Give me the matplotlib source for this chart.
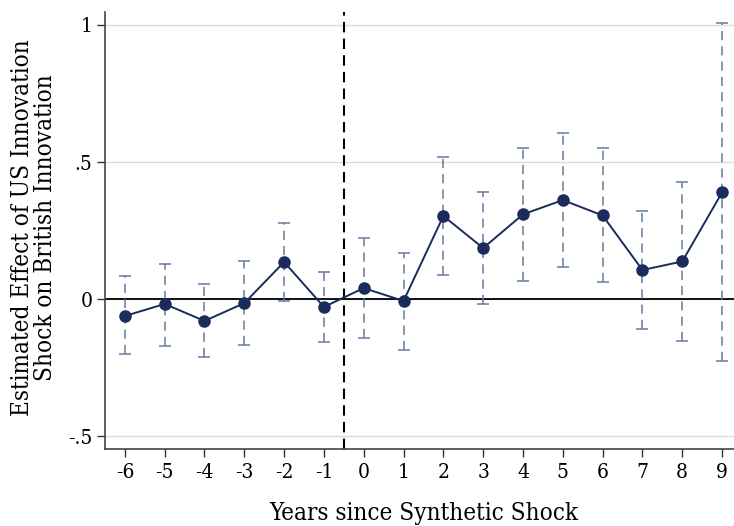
import matplotlib
matplotlib.use("Agg")
import matplotlib.pyplot as plt

# event-study estimates
years = [-6, -5, -4, -3, -2, -1, 0, 1, 2, 3, 4, 5, 6, 7, 8, 9]
coef = [-0.062, -0.018, -0.080, -0.015, 0.135, -0.029, 0.040, -0.007,
        0.303, 0.186, 0.309, 0.361, 0.305, 0.106, 0.137, 0.389]
ci_hi = [0.084, 0.128, 0.055, 0.139, 0.277, 0.099, 0.223, 0.168,
         0.517, 0.389, 0.552, 0.606, 0.552, 0.322, 0.427, 1.006]
ci_lo = [-0.200, -0.172, -0.210, -0.168, -0.007, -0.157, -0.142, -0.186,
         0.089, -0.017, 0.066, 0.116, 0.061, -0.111, -0.153, -0.226]
yticks = [-0.5, 0, 0.5, 1]
ytick_labels = ["-.5", "0", ".5", "1"]

NAVY = "#1a2c5b"
CI_COLOR = "#667a9c"

plt.rcParams["font.family"] = ["DejaVu Serif"]
plt.rcParams["font.stretch"] = "condensed"

fig = plt.figure(figsize=(7.34, 5.26), dpi=100)
ax = fig.add_axes([0.143, 0.146, 0.857, 0.831])

for y in yticks:
    ax.axhline(y, color="#dcdcdc", lw=1.0, zorder=0)
ax.axhline(0, color="black", lw=1.3, zorder=1)
ax.axvline(-0.5, color="black", lw=1.5, ls=(0, (5, 3)), zorder=1)

ax.errorbar(years, coef,
            yerr=[[c - l for c, l in zip(coef, ci_lo)],
                  [h - c for c, h in zip(coef, ci_hi)]],
            fmt="none", ecolor=CI_COLOR, elinewidth=1.1, capsize=4,
            capthick=1.1, zorder=2)
# make the vertical CI segments dashed
for coll in ax.collections:
    coll.set_linestyle((0, (6, 4)))
ax.plot(years, coef, color=NAVY, lw=1.4, marker="o", ms=8, zorder=3)

ax.set_xlim(-6.5, 9.3)
ax.set_ylim(-0.548, 1.047)
ax.set_xticks(years)
ax.set_xticklabels([str(y) for y in years])
ax.set_yticks(yticks)
ax.set_yticklabels(ytick_labels)
ax.tick_params(axis="both", labelsize=15, length=6, width=1, color="#333333")
ax.tick_params(axis="y", pad=3)
ax.tick_params(axis="x", pad=4)

for side in ["top", "right"]:
    ax.spines[side].set_visible(False)
for side in ["left", "bottom"]:
    ax.spines[side].set_color("#444444")
    ax.spines[side].set_linewidth(1.2)

ax.set_xlabel("Years since Synthetic Shock", fontsize=17.4, va="top")
ax.xaxis.set_label_coords(0.506, -0.121)
ax.set_ylabel("Estimated Effect of US Innovation\nShock on British Innovation",
              fontsize=17.4, linespacing=0.98)
ax.yaxis.set_label_coords(-0.0765, 0.507)

fig.savefig("out.png", dpi=100)
